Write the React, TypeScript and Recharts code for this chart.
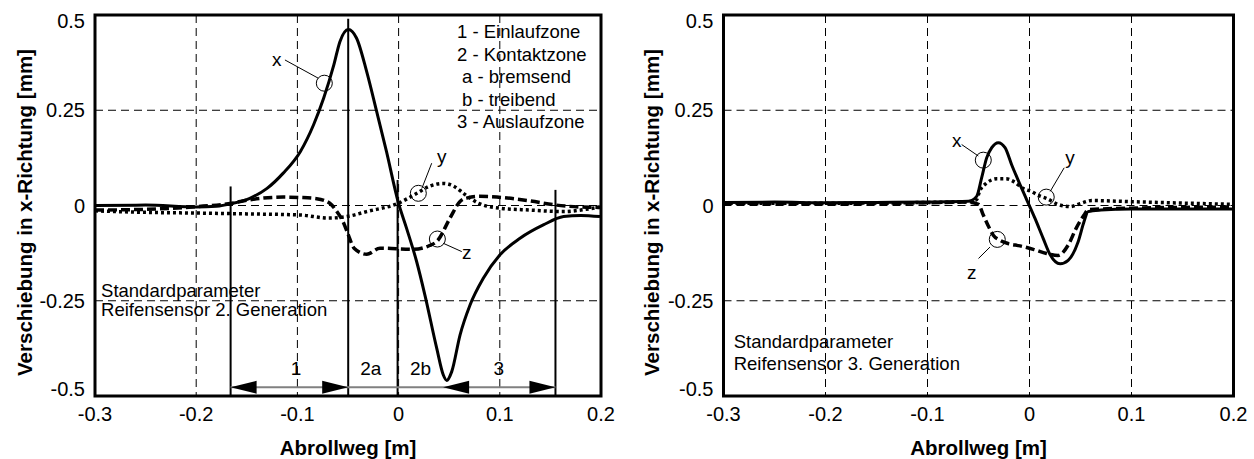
import { CartesianGrid, Line, LineChart, ReferenceArea, ReferenceDot, ReferenceLine, XAxis, YAxis } from "recharts";

const FONT = "'Liberation Sans', Arial, Helvetica, sans-serif";

const xTicks = [-0.3, -0.2, -0.1, 0, 0.1, 0.2];
const yTicks = [-0.5, -0.25, 0, 0.25, 0.5];

// Reifensensor 2. Generation: [Abrollweg, Verschiebung]
const gen2X = [
    [-0.3, 0.0], [-0.25, 0.001], [-0.2, -0.004], [-0.18, -0.002], [-0.165, 0.005], [-0.147, 0.019],
    [-0.13, 0.045], [-0.114, 0.085], [-0.097, 0.142], [-0.084, 0.212], [-0.074, 0.282], [-0.064, 0.369],
    [-0.058, 0.43], [-0.0497, 0.462], [-0.0415, 0.439], [-0.0316, 0.352], [-0.0217, 0.247], [-0.012, 0.142],
    [-0.0003, 0.008], [0.0079, -0.06], [0.0178, -0.147], [0.026, -0.235], [0.0377, -0.375], [0.0442, -0.445],
    [0.0475, -0.459], [0.0525, -0.436], [0.0607, -0.34], [0.0706, -0.261], [0.0837, -0.191], [0.1, -0.13],
    [0.12, -0.086], [0.143, -0.051], [0.163, -0.029], [0.18, -0.026], [0.199, -0.029],
];
const gen2Y = [
    [-0.3, -0.014], [-0.25, -0.018], [-0.196, -0.02], [-0.15, -0.022], [-0.097, -0.025], [-0.0695, -0.033],
    [-0.0513, -0.029], [-0.0316, -0.016], [-0.0003, 0.006], [0.018, 0.032], [0.03, 0.05], [0.044, 0.058],
    [0.055, 0.05], [0.065, 0.03], [0.079, 0.006], [0.1, -0.007], [0.13, -0.012], [0.163, -0.016],
    [0.185, -0.01], [0.199, -0.004],
];
const gen2Z = [
    [-0.3, -0.012], [-0.25, -0.01], [-0.2, -0.003], [-0.165, 0.006], [-0.147, 0.015], [-0.114, 0.022],
    [-0.097, 0.021], [-0.081, 0.018], [-0.068, 0.006], [-0.061, -0.016], [-0.055, -0.042], [-0.0497, -0.077],
    [-0.044, -0.112], [-0.0315, -0.128], [-0.0184, -0.112], [0.0145, -0.115], [0.0306, -0.105], [0.0383, -0.093],
    [0.0508, -0.033], [0.0607, 0.0105], [0.068, 0.02], [0.08, 0.024], [0.097, 0.022], [0.13, 0.012],
    [0.156, 0.001], [0.18, -0.004], [0.199, -0.005],
];

// Reifensensor 3. Generation
const gen3X = [
    [-0.3, 0.008], [-0.25, 0.009], [-0.2, 0.007], [-0.15, 0.008], [-0.1, 0.009], [-0.06, 0.011],
    [-0.0518, 0.024], [-0.047, 0.072], [-0.042, 0.125], [-0.037, 0.152], [-0.0306, 0.165], [-0.024, 0.152],
    [-0.0175, 0.107], [-0.0093, 0.055], [-0.0027, 0.015], [0.0054, -0.034], [0.0135, -0.087], [0.02, -0.128],
    [0.03, -0.153], [0.0379, -0.144], [0.0477, -0.095], [0.0535, -0.042], [0.0574, -0.016], [0.07, -0.012],
    [0.1, -0.009], [0.15, -0.009], [0.2, -0.009],
];
const gen3Y = [
    [-0.3, 0.006], [-0.2, 0.006], [-0.1, 0.008], [-0.06, 0.01], [-0.052, 0.015], [-0.049, 0.037],
    [-0.042, 0.059], [-0.032, 0.07], [-0.023, 0.07], [-0.015, 0.062], [-0.007, 0.046], [0.0015, 0.037],
    [0.011, 0.024], [0.0164, 0.019], [0.028, 0.003], [0.0398, -0.003], [0.0496, 0.005], [0.0613, 0.013],
    [0.1, 0.01], [0.155, 0.006], [0.2, 0.003],
];
const gen3Z = [
    [-0.3, 0.006], [-0.2, 0.005], [-0.1, 0.007], [-0.06, 0.009], [-0.05, 0.003], [-0.0453, -0.025],
    [-0.04, -0.056], [-0.0355, -0.078], [-0.029, -0.091], [-0.0208, -0.1], [-0.0093, -0.106], [0.0037, -0.115],
    [0.0168, -0.126], [0.028, -0.131], [0.0379, -0.104], [0.0457, -0.06], [0.0535, -0.025], [0.0574, -0.011],
    [0.1, -0.007], [0.2, -0.004],
];

// zones of the 2nd generation plot
const zoneBounds = [-0.166, -0.0498, -0.001, 0.155];
const zoneTops = [0.05, 0.49, 0.067, 0.041];
const zoneNames = ["1", "2a", "2b", "3"];
const zoneNameX = [-0.1014, -0.0275, 0.0216, 0.099];
const zoneLegend = ["1 - Einlaufzone", "2 - Kontaktzone", "a - bremsend", "b - treibend", "3 - Auslaufzone"];
const arrowY = -0.477;
const arrowTips = [
    { x: -0.166, dir: "left" },
    { x: -0.0498, dir: "right" },
    { x: 0.044, dir: "left" },
    { x: 0.155, dir: "right" },
];

const gen2Marks = [
    { t: "x", lx: -0.1205, ly: 0.378, cx: -0.0734, cy: 0.321, from: [-0.1123, 0.382], to: [-0.0793, 0.334] },
    { t: "y", lx: 0.0426, ly: 0.124, cx: 0.0195, cy: 0.032, from: [0.0327, 0.111], to: [0.023, 0.045] },
    { t: "z", lx: 0.0673, ly: -0.128, cx: 0.0383, cy: -0.088, from: [0.044, -0.099], to: [0.0624, -0.121] },
];
const gen3Marks = [
    { t: "x", lx: -0.0714, ly: 0.167, cx: -0.0453, cy: 0.119, from: [-0.0665, 0.16], to: [-0.0502, 0.13] },
    { t: "y", lx: 0.0398, ly: 0.121, cx: 0.0164, cy: 0.022, from: [0.034, 0.099], to: [0.0203, 0.037] },
    { t: "z", lx: -0.0567, ly: -0.179, cx: -0.0316, cy: -0.089, from: [-0.0387, -0.109], to: [-0.05, -0.139] },
];

const toRows = (pts: number[][]) => pts.map(([s, v]) => ({ s, v }));

const YTick = ({ x, y, payload }: any) => {
    const v = payload.value;
    const shift = v === 0.5 ? 6 : v === -0.5 ? -7 : 0;
    return (
        <text x={x} y={y + shift} dy="0.36em" textAnchor="end" fontSize={20} fontFamily={FONT} fill="#000">
            {String(v)}
        </text>
    );
};

const XTick = ({ x, y, payload }: any) => (
    <text x={x} y={y + 25} textAnchor="middle" fontSize={20} fontFamily={FONT} fill="#000">
        {String(payload.value)}
    </text>
);

const yTitle = (props: any) => {
    const vb = props.viewBox;
    const cx = vb.x + 25;
    const cy = vb.y + vb.height / 2 + 7;
    return (
        <text transform={`translate(${cx},${cy}) rotate(-90)`} dy="0.35em" textAnchor="middle"
            fontSize={20.5} fontWeight="bold" fontFamily={FONT} fill="#000">
            Verschiebung in x-Richtung [mm]
        </text>
    );
};

const xTitle = (props: any) => {
    const vb = props.viewBox;
    return (
        <text x={vb.x + vb.width / 2} y={vb.y + 59} textAnchor="middle"
            fontSize={20.5} fontWeight="bold" fontFamily={FONT} fill="#000">
            Abrollweg [m]
        </text>
    );
};

const Arrowhead = ({ cx, cy, dir }: any) => {
    const len = 26;
    const half = 6.5;
    const bx = dir === "left" ? cx + len : cx - len;
    return <path d={`M${cx},${cy}L${bx},${cy - half}L${bx},${cy + half}Z`} fill="#000" />;
};

const Ring = ({ cx, cy }: any) => <circle cx={cx} cy={cy} r={8} fill="none" stroke="#000" strokeWidth={1} />;

const TextBlock = ({ cx, cy, lines, indents, size, gap, anchor, dy }: any) => (
    <text x={cx} y={cy} fontSize={size} fontFamily={FONT} fill="#000" textAnchor={anchor || "start"}>
        {lines.map((ln: string, i: number) => (
            <tspan key={i} x={cx + (indents ? indents[i] : 0)} dy={i === 0 ? dy || 0 : gap}>
                {ln}
            </tspan>
        ))}
    </text>
);

function marks(list: typeof gen2Marks) {
    return list.flatMap((m) => [
        <ReferenceLine key={m.t + "-l"} segment={[{ x: m.from[0], y: m.from[1] }, { x: m.to[0], y: m.to[1] }]}
            stroke="#000" strokeWidth={1} />,
        <ReferenceDot key={m.t + "-c"} x={m.cx} y={m.cy} r={8} shape={(p: any) => <Ring {...p} />} />,
        <ReferenceDot key={m.t + "-t"} x={m.lx} y={m.ly} r={0}
            shape={(p: any) => <TextBlock {...p} lines={[m.t]} size={19} anchor="middle" dy={5} />} />,
    ]);
}

function Panel({ rows, left, right, note, gen2 }: any) {
    return (
        <LineChart width={627} height={459} margin={{ top: 15, right, bottom: 0, left: 0 }}>
            <CartesianGrid stroke="#000" strokeWidth={1} strokeDasharray="8 5" />
            <XAxis type="number" dataKey="s" domain={[-0.3, 0.2]} ticks={xTicks} allowDataOverflow
                axisLine={false} tickLine={false} tickSize={0} tickMargin={0} height={63}
                tick={<XTick />} label={xTitle} />
            <YAxis type="number" domain={[-0.5, 0.5]} ticks={yTicks} allowDataOverflow
                axisLine={false} tickLine={false} tickSize={0} tickMargin={10} width={left}
                tick={<YTick />} label={yTitle} />
            <Line data={toRows(rows.y)} dataKey="v" type="monotone" stroke="#000" strokeWidth={3.5}
                strokeDasharray="3 3" dot={false} isAnimationActive={false} />
            <Line data={toRows(rows.z)} dataKey="v" type="monotone" stroke="#000" strokeWidth={3.5}
                strokeDasharray="9 4" dot={false} isAnimationActive={false} />
            <Line data={toRows(rows.x)} dataKey="v" type="monotone" stroke="#000" strokeWidth={3}
                dot={false} isAnimationActive={false} />
            {gen2 && zoneBounds.map((b, i) => (
                <ReferenceLine key={"zb" + i} segment={[{ x: b, y: zoneTops[i] }, { x: b, y: -0.5 }]}
                    stroke="#000" strokeWidth={2} />
            ))}
            {gen2 && (
                <ReferenceLine segment={[{ x: zoneBounds[0], y: arrowY }, { x: zoneBounds[3], y: arrowY }]}
                    stroke="#808080" strokeWidth={2} />
            )}
            {gen2 && arrowTips.map((a, i) => (
                <ReferenceDot key={"ar" + i} x={a.x} y={arrowY} r={0}
                    shape={(p: any) => <Arrowhead {...p} dir={a.dir} />} />
            ))}
            {gen2 && zoneNames.map((n, i) => (
                <ReferenceDot key={"zn" + i} x={zoneNameX[i]} y={-0.445} r={0}
                    shape={(p: any) => <TextBlock {...p} lines={[n]} size={19} anchor="middle" />} />
            ))}
            {gen2 && (
                <ReferenceDot x={0.0577} y={0.439} r={0}
                    shape={(p: any) => <TextBlock {...p} lines={zoneLegend} indents={[0, 0, 5, 5, 0]} size={18.5} gap={22.5} />} />
            )}
            <ReferenceDot x={note.x} y={note.y} r={0}
                shape={(p: any) => <TextBlock {...p} lines={note.lines} size={18.5} gap={note.gap} />} />
            {marks(rows.marks)}
            <ReferenceArea x1={-0.3} x2={0.2} y1={-0.5} y2={0.5} fill="none" stroke="#000" strokeWidth={3}
                ifOverflow="visible" />
        </LineChart>
    );
}

export default function App() {
    return (
        <div style={{ position: "absolute", left: 0, top: 0, width: 1254, height: 459, background: "#fff" }}>
            <div style={{ position: "absolute", left: 0, top: 0 }}>
                <Panel rows={{ x: gen2X, y: gen2Y, z: gen2Z, marks: gen2Marks }} left={95} right={26} gen2
                    note={{ x: -0.294, y: -0.239, gap: 19, lines: ["Standardparameter", "Reifensensor 2. Generation"] }} />
            </div>
            <div style={{ position: "absolute", left: 627, top: 0 }}>
                <Panel rows={{ x: gen3X, y: gen3Y, z: gen3Z, marks: gen3Marks }} left={96.5} right={20.5}
                    note={{ x: -0.29, y: -0.375, gap: 22, lines: ["Standardparameter", "Reifensensor 3. Generation"] }} />
            </div>
        </div>
    );
}
